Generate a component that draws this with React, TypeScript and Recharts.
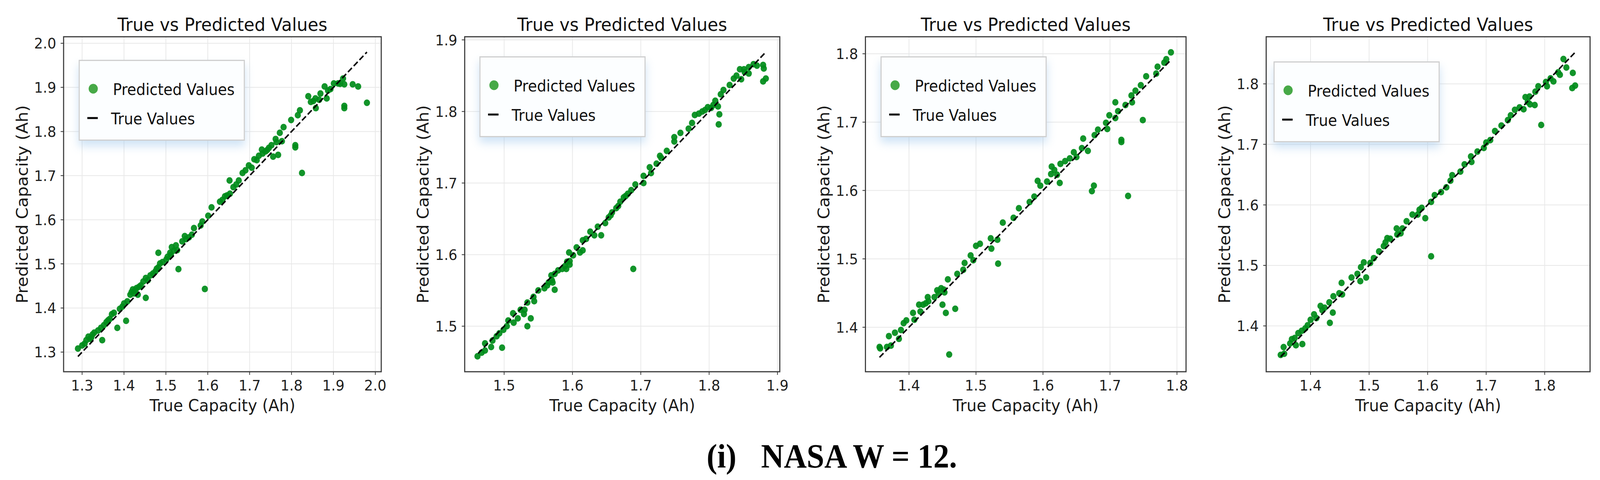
import React from "react"
import {
  ScatterChart,
  Scatter,
  XAxis,
  YAxis,
  CartesianGrid,
  Legend,
  ReferenceArea,
} from "recharts"

// ---- data (true capacity vs predicted capacity, Ah) ----

const chartTitle = "True vs Predicted Values"
const xAxisLabel = "True Capacity (Ah)"
const yAxisLabel = "Predicted Capacity (Ah)"
const pointsName = "Predicted Values"
const lineName = "True Values"
const captionTag = "(i)"
const captionText = "NASA W = 12."

const p1True = [
  1.29, 1.3, 1.306, 1.31, 1.315, 1.319, 1.322, 1.325, 1.329, 1.338, 1.345, 1.348, 1.352, 1.358,
  1.362, 1.366, 1.371, 1.376, 1.384, 1.39, 1.396, 1.4, 1.405, 1.408, 1.415, 1.418, 1.421, 1.424,
  1.427, 1.43, 1.433, 1.436, 1.44, 1.446, 1.452, 1.452, 1.457, 1.463, 1.469, 1.475, 1.478,
  1.482, 1.482, 1.486, 1.492, 1.501, 1.504, 1.51, 1.512, 1.514, 1.519, 1.524, 1.527, 1.53,
  1.539, 1.545, 1.548, 1.555, 1.562, 1.567, 1.583, 1.587, 1.593, 1.601, 1.609,
  1.629, 1.635, 1.641, 1.646, 1.652, 1.653, 1.661, 1.668, 1.674, 1.683, 1.69, 1.698, 1.705,
  1.711, 1.717, 1.722, 1.729, 1.731, 1.738, 1.742, 1.746, 1.752, 1.756, 1.762, 1.764, 1.768,
  1.772, 1.777, 1.781, 1.799, 1.809, 1.809, 1.815, 1.82, 1.825, 1.84, 1.846, 1.852, 1.857,
  1.858, 1.866, 1.869, 1.879, 1.884, 1.887, 1.893, 1.901, 1.911, 1.916, 1.923, 1.926, 1.926,
  1.926, 1.946, 1.959, 1.98,
]
const p1Pred = [
  1.308, 1.315, 1.319, 1.327, 1.335, 1.33, 1.333, 1.34, 1.344, 1.349, 1.355, 1.327, 1.361, 1.368,
  1.372, 1.375, 1.386, 1.389, 1.355, 1.398, 1.403, 1.41, 1.371, 1.415, 1.43, 1.436, 1.442, 1.433,
  1.44, 1.445, 1.43, 1.448, 1.451, 1.46, 1.468, 1.423, 1.463, 1.474, 1.478, 1.483, 1.489, 1.525,
  1.492, 1.501, 1.504, 1.51, 1.516, 1.525, 1.52, 1.538, 1.53, 1.542, 1.531, 1.488, 1.551, 1.563,
  1.556, 1.56, 1.566, 1.581, 1.587, 1.596, 1.443, 1.609, 1.628,
  1.641, 1.645, 1.653, 1.655, 1.689, 1.659, 1.674, 1.68, 1.689, 1.706, 1.712, 1.723, 1.718,
  1.737, 1.735, 1.745, 1.759, 1.75, 1.755, 1.758, 1.763, 1.769, 1.743, 1.783, 1.776, 1.747,
  1.797, 1.778, 1.81, 1.826, 1.769, 1.764, 1.837, 1.848, 1.706, 1.88, 1.867, 1.869, 1.875,
  1.853, 1.872, 1.886, 1.902, 1.875, 1.893, 1.896, 1.909, 1.909, 1.908, 1.92, 1.907, 1.858,
  1.853, 1.907, 1.902, 1.865,
]
const p1Line = [1.29, 1.98]

const p2True = [
  1.461, 1.467, 1.472, 1.472, 1.481, 1.483, 1.489, 1.493, 1.497, 1.499, 1.504, 1.506, 1.513,
  1.514, 1.52, 1.524, 1.529, 1.53, 1.534, 1.534, 1.539, 1.543, 1.544, 1.55, 1.559, 1.563, 1.565,
  1.57, 1.571, 1.574, 1.569, 1.574, 1.579, 1.585, 1.589, 1.591, 1.592, 1.596, 1.596, 1.595,
  1.601, 1.606, 1.611, 1.615, 1.615, 1.62, 1.626, 1.632, 1.637, 1.642, 1.648,
  1.653, 1.656, 1.658, 1.664, 1.667, 1.67, 1.675, 1.678, 1.681, 1.686, 1.689, 1.692, 1.704,
  1.704, 1.713, 1.715, 1.723, 1.728, 1.73, 1.738, 1.749, 1.749, 1.758, 1.77, 1.775, 1.779,
  1.785, 1.79, 1.794, 1.798, 1.803, 1.806, 1.809, 1.813, 1.815, 1.814, 1.817, 1.821, 1.83,
  1.836, 1.84, 1.845, 1.847, 1.851, 1.852, 1.858, 1.858, 1.865, 1.87, 1.879, 1.88, 1.879, 1.883,
]
const p2Pred = [
  1.458, 1.463, 1.466, 1.476, 1.471, 1.48, 1.486, 1.49, 1.47, 1.495, 1.5, 1.508, 1.518, 1.505,
  1.511, 1.523, 1.517, 1.523, 1.5, 1.533, 1.511, 1.541, 1.535, 1.55, 1.553, 1.557, 1.561, 1.564,
  1.561, 1.551, 1.571, 1.573, 1.578, 1.58, 1.584, 1.58, 1.59, 1.586, 1.591, 1.603, 1.599, 1.61,
  1.603, 1.606, 1.62, 1.622, 1.632, 1.627, 1.639, 1.627, 1.644,
  1.652, 1.655, 1.659, 1.665, 1.668, 1.674, 1.68, 1.682, 1.685, 1.69, 1.58, 1.698, 1.71, 1.7,
  1.722, 1.714, 1.727, 1.738, 1.735, 1.745, 1.758, 1.764, 1.77, 1.776, 1.784, 1.795, 1.797,
  1.8, 1.802, 1.806, 1.805, 1.809, 1.815, 1.807, 1.796, 1.782, 1.824, 1.83, 1.837, 1.846, 1.85,
  1.859, 1.845, 1.859, 1.855, 1.862, 1.853, 1.866, 1.864, 1.865, 1.86, 1.842, 1.846,
]
const p2Line = [1.462, 1.882]

const p3True = [
  1.356, 1.357, 1.367, 1.37, 1.373, 1.379, 1.385, 1.388, 1.392, 1.396, 1.406, 1.408, 1.415,
  1.417, 1.421, 1.425, 1.428, 1.429, 1.438, 1.442, 1.444, 1.448, 1.452, 1.45, 1.453, 1.455,
  1.458, 1.46, 1.469, 1.472, 1.481, 1.483, 1.492, 1.496, 1.5, 1.506, 1.522, 1.523, 1.532,
  1.533, 1.54, 1.556, 1.564, 1.58, 1.587, 1.592, 1.596, 1.606, 1.612, 1.613, 1.617, 1.621,
  1.625, 1.626, 1.633, 1.64, 1.646, 1.65, 1.658, 1.66, 1.667, 1.673, 1.676, 1.677, 1.682,
  1.694, 1.696, 1.699, 1.708, 1.708, 1.712, 1.717, 1.717, 1.723, 1.727, 1.733, 1.732, 1.738,
  1.746, 1.749, 1.754, 1.769, 1.771, 1.781, 1.784, 1.791,
]
const p3Pred = [
  1.371, 1.369, 1.371, 1.387, 1.373, 1.392, 1.383, 1.396, 1.406, 1.41, 1.421, 1.411, 1.433,
  1.423, 1.433, 1.435, 1.444, 1.438, 1.444, 1.454, 1.45, 1.457, 1.455, 1.433, 1.451, 1.421,
  1.47, 1.36, 1.427, 1.478, 1.484, 1.494, 1.505, 1.498, 1.519, 1.522, 1.53, 1.515, 1.528,
  1.493, 1.553, 1.56, 1.574, 1.583, 1.591, 1.614, 1.607, 1.613, 1.624, 1.635, 1.63, 1.623,
  1.611, 1.639, 1.643, 1.647, 1.656, 1.649, 1.662, 1.676, 1.658, 1.599, 1.607, 1.681, 1.689,
  1.699, 1.69, 1.71, 1.706, 1.729, 1.716, 1.674, 1.671, 1.725, 1.592, 1.729, 1.739, 1.746,
  1.754, 1.703, 1.767, 1.771, 1.781, 1.787, 1.792, 1.802,
]
const p3Line = [1.356, 1.79]

const p4True = [
  1.349, 1.354, 1.355, 1.365, 1.368, 1.373, 1.375, 1.379, 1.385, 1.386, 1.391, 1.395, 1.4,
  1.406, 1.41, 1.417, 1.42, 1.424, 1.432, 1.433, 1.438, 1.439, 1.449, 1.453, 1.454, 1.47, 1.48,
  1.485, 1.486, 1.491, 1.495, 1.502, 1.508, 1.517, 1.525, 1.528, 1.531, 1.536, 1.548, 1.547,
  1.554, 1.557, 1.564, 1.574, 1.583, 1.586,
  1.59, 1.596, 1.606, 1.606, 1.612, 1.623, 1.632, 1.639, 1.642, 1.656, 1.663, 1.674, 1.675,
  1.685, 1.696, 1.7, 1.707, 1.715, 1.726, 1.737, 1.742, 1.749, 1.757, 1.764, 1.767, 1.771,
  1.774, 1.775, 1.783, 1.784, 1.789, 1.794, 1.802, 1.804, 1.81, 1.815, 1.823, 1.826, 1.832,
  1.837, 1.848, 1.847, 1.852,
]
const p4Pred = [
  1.352, 1.365, 1.354, 1.371, 1.378, 1.38, 1.368, 1.388, 1.392, 1.37, 1.396, 1.401, 1.41,
  1.419, 1.413, 1.433, 1.426, 1.43, 1.439, 1.405, 1.422, 1.449, 1.454, 1.471, 1.452, 1.48,
  1.486, 1.474, 1.497, 1.505, 1.48, 1.504, 1.512, 1.523, 1.532, 1.538, 1.545, 1.544, 1.551,
  1.561, 1.553, 1.561, 1.573, 1.584, 1.584, 1.592,
  1.595, 1.578, 1.515, 1.605, 1.616, 1.621, 1.629, 1.64, 1.649, 1.655, 1.667, 1.68, 1.671,
  1.688, 1.694, 1.703, 1.707, 1.722, 1.731, 1.74, 1.748, 1.757, 1.761, 1.758, 1.778, 1.77,
  1.779, 1.766, 1.765, 1.787, 1.796, 1.732, 1.803, 1.796, 1.809, 1.804, 1.819, 1.815, 1.841,
  1.827, 1.818, 1.793, 1.797,
]
const p4Line = [1.349, 1.853]

const p1Ticks = [1.3, 1.4, 1.5, 1.6, 1.7, 1.8, 1.9, 2.0]
const p2Ticks = [1.5, 1.6, 1.7, 1.8, 1.9]
const p3Ticks = [1.4, 1.5, 1.6, 1.7, 1.8]
const p4Ticks = [1.4, 1.5, 1.6, 1.7, 1.8]

// ---- layout (in the reference's 4352 px wide frame) ----

const PAGE_W = 4352
const PAGE_H = 1228
const FRAME_TOP = 94
const FRAME_H = 857
const Y_AXIS_W = 170
const RIGHT_PAD = 45
const X_AXIS_H = 149
const CHART_H = FRAME_TOP + FRAME_H + X_AXIS_H

const GREEN = "#008c1a"
const FONT = "'DejaVu Sans', sans-serif"

const panels = [
  {
    trueVals: p1True, predVals: p1Pred, line: p1Line,
    xTicks: p1Ticks, yTicks: p1Ticks,
    xDomain: [1.2558, 2.0142], yDomain: [1.2555, 2.0148],
    frameLeft: 173, frameW: 864, legendLeft: 214, legendTop: 153,
  },
  {
    trueVals: p2True, predVals: p2Pred, line: p2Line,
    xTicks: p2Ticks, yTicks: p2Ticks,
    xDomain: [1.4423, 1.9034], yDomain: [1.4364, 1.9044],
    frameLeft: 1264, frameW: 857, legendLeft: 1304, legendTop: 144,
  },
  {
    trueVals: p3True, predVals: p3Pred, line: p3Line,
    xTicks: p3Ticks, yTicks: p3Ticks,
    xDomain: [1.335, 1.8135], yDomain: [1.3349, 1.8249],
    frameLeft: 2354, frameW: 872, legendLeft: 2395, legendTop: 144,
  },
  {
    trueVals: p4True, predVals: p4Pred, line: p4Line,
    xTicks: p4Ticks, yTicks: p4Ticks,
    xDomain: [1.3242, 1.8775], yDomain: [1.3243, 1.8778],
    frameLeft: 3444, frameW: 881, legendLeft: 3464, legendTop: 157,
  },
]

const tickStyle = { fontSize: 38, fill: "#1f1f1f", fontFamily: FONT }

function LegendBox(props: any) {
  const items = props.payload ?? []
  return (
    <div
      style={{
        position: "relative",
        width: 452,
        height: 207,
        boxSizing: "border-box",
        border: "3px solid #cfcfcf",
        background: "#fcfeff",
        boxShadow: "0 14px 22px rgba(150, 195, 235, 0.45)",
      }}
    >
      <svg width={452} height={207} style={{ position: "absolute", left: -3, top: -3, overflow: "visible" }}>
        {items.map((it: any, i: number) => {
          const isLine = it.type === "line"
          const cy = i === 0 ? 74 : 149
          return (
            <g key={it.value}>
              {isLine ? (
                <line x1={23.5} x2={52} y1={cy} y2={cy} stroke="#000" strokeWidth={5} />
              ) : (
                <circle cx={39.6} cy={cy} r={12.5} fill="#47a947" />
              )}
              <text x={isLine ? 88 : 93} y={cy + 16} fontSize={40} fontFamily={FONT} fill="#111">
                {it.value}
              </text>
            </g>
          )
        })}
      </svg>
    </div>
  )
}

function Panel({ cfg }: { cfg: any }) {
  const points = cfg.trueVals.map((t: number, i: number) => ({ x: t, y: cfg.predVals[i] }))
  const diag = cfg.line.map((v: number) => ({ x: v, y: v }))
  const chartLeft = cfg.frameLeft - Y_AXIS_W
  const width = Y_AXIS_W + cfg.frameW + RIGHT_PAD

  const xLabel = () => (
    <text
      x={Y_AXIS_W + cfg.frameW / 2}
      y={FRAME_TOP + FRAME_H + 101}
      textAnchor="middle"
      fontSize={43}
      fontFamily={FONT}
      fill="#1a1a1a"
    >
      {xAxisLabel}
    </text>
  )
  const yLabel = () => {
    const cx = Y_AXIS_W - 113 + 15
    const cy = FRAME_TOP + FRAME_H / 2
    return (
      <text
        x={cx}
        y={cy}
        transform={`rotate(-90 ${cx} ${cy})`}
        textAnchor="middle"
        fontSize={43}
        fontFamily={FONT}
        fill="#1a1a1a"
      >
        {yAxisLabel}
      </text>
    )
  }

  return (
    <div style={{ position: "absolute", left: chartLeft, top: 0 }}>
      <ScatterChart
        width={width}
        height={CHART_H}
        margin={{ top: FRAME_TOP, right: RIGHT_PAD, bottom: 0, left: 0 }}
      >
        <CartesianGrid stroke="#e8e8e8" strokeWidth={2} />
        <XAxis
          type="number"
          dataKey="x"
          domain={cfg.xDomain}
          ticks={cfg.xTicks}
          allowDataOverflow
          height={X_AXIS_H}
          axisLine={false}
          tickLine={{ stroke: "#333", strokeWidth: 2 }}
          tickSize={8}
          tickMargin={13}
          tick={tickStyle}
          tickFormatter={(v: number) => v.toFixed(1)}
          label={xLabel}
        />
        <YAxis
          type="number"
          dataKey="y"
          domain={cfg.yDomain}
          ticks={cfg.yTicks}
          allowDataOverflow
          width={Y_AXIS_W}
          axisLine={false}
          tickLine={{ stroke: "#333", strokeWidth: 2 }}
          tickSize={8}
          tickMargin={12}
          tick={tickStyle}
          tickFormatter={(v: number) => v.toFixed(1)}
          label={yLabel}
        />
        <Scatter
          name={pointsName}
          data={points}
          fill={GREEN}
          legendType="circle"
          isAnimationActive={false}
          shape={(p: any) => <circle cx={p.cx} cy={p.cy} r={8.5} fill={GREEN} fillOpacity={0.93} />}
        />
        <Scatter
          name={lineName}
          data={diag}
          fill="#000"
          legendType="line"
          isAnimationActive={false}
          line={{ stroke: "#000", strokeWidth: 4, strokeDasharray: "15 7" }}
          shape={() => <g />}
        />
        <ReferenceArea
          x1={cfg.xDomain[0]}
          x2={cfg.xDomain[1]}
          y1={cfg.yDomain[0]}
          y2={cfg.yDomain[1]}
          fill="none"
          stroke="#3c3c3c"
          strokeWidth={3}
          ifOverflow="visible"
        />
        <Legend
          layout="horizontal"
          verticalAlign="middle"
          align="center"
          content={LegendBox}
          wrapperStyle={{
            left: cfg.legendLeft - chartLeft,
            top: cfg.legendTop,
            width: 452,
            height: 207,
          }}
        />
      </ScatterChart>
    </div>
  )
}

export default function App() {
  // the viewport can be narrower than the 4352 px reference; squeeze the layout horizontally to fit
  const viewW = typeof window !== "undefined" ? window.innerWidth : PAGE_W
  const sx = Math.min(1, viewW / PAGE_W)

  return (
    <div
      style={{
        position: "absolute",
        left: 0,
        top: 0,
        width: PAGE_W,
        height: PAGE_H,
        background: "#fff",
        overflow: "hidden",
        transform: `scaleX(${sx})`,
        transformOrigin: "0 0",
      }}
    >
      {panels.map((cfg, i) => (
        <Panel key={i} cfg={cfg} />
      ))}
      <svg
        width={PAGE_W}
        height={PAGE_H}
        style={{ position: "absolute", left: 0, top: 0, pointerEvents: "none" }}
      >
        {panels.map((cfg, i) => (
          <text
            key={i}
            x={cfg.frameLeft + cfg.frameW / 2}
            y={79}
            textAnchor="middle"
            fontSize={47}
            fontFamily={FONT}
            fill="#111"
          >
            {chartTitle}
          </text>
        ))}
        <text x={1922} y={1196} fontSize={86} fontWeight="bold" fontFamily="'Liberation Serif', serif" fill="#000">
          {captionTag}
        </text>
        <text x={2070} y={1196} fontSize={86} fontWeight="bold" fontFamily="'Liberation Serif', serif" fill="#000">
          {captionText}
        </text>
      </svg>
    </div>
  )
}
